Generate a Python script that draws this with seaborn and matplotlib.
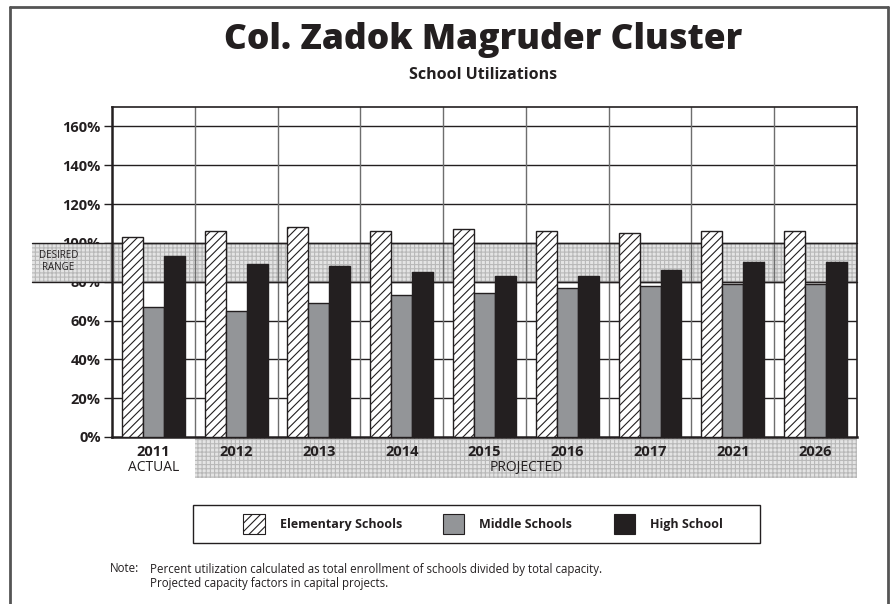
import pandas as pd
import matplotlib
matplotlib.use("Agg")
import matplotlib.pyplot as plt
import matplotlib.transforms as mtransforms
from matplotlib.patches import Rectangle, Patch
from matplotlib.lines import Line2D
import seaborn as sns

# data
years = ['2011', '2012', '2013', '2014', '2015', '2016', '2017', '2021', '2026']
elementary = [103, 106, 108, 106, 107, 106, 105, 106, 106]
middle = [67, 65, 69, 73, 74, 77, 78, 79, 79]
high = [93, 89, 88, 85, 83, 83, 86, 90, 90]
series = ['Elementary Schools', 'Middle Schools', 'High School']
y_ticks = [0, 20, 40, 60, 80, 100, 120, 140, 160]
desired_low, desired_high = 80, 100

df = pd.DataFrame({
    'year': years * 3,
    'util': elementary + middle + high,
    'type': [series[0]] * 9 + [series[1]] * 9 + [series[2]] * 9,
})

sns.set_style('white')
plt.rcParams['font.family'] = ['Open Sans', 'DejaVu Sans']
plt.rcParams['hatch.linewidth'] = 0.8

INK = '#231f20'
GREY = '#939598'
palette = {series[0]: 'white', series[1]: GREY, series[2]: INK}

fig = plt.figure(figsize=(8.9, 6.04), dpi=100)
ax = fig.add_axes([0.1258, 0.2765, 0.8371, 0.5464])

sns.barplot(data=df, x='year', y='util', hue='type', palette=palette,
            width=0.76, edgecolor=INK, linewidth=1.0, saturation=1,
            legend=False, ax=ax, zorder=3)

# hatch the elementary bars
for bar in ax.containers[0]:
    bar.set_hatch('////')
    bar.set_facecolor('white')

ax.set_xlim(-0.5, len(years) - 0.5)
ax.set_ylim(0, 170)
ax.set_xlabel('')
ax.set_ylabel('')

# gridlines
for v in y_ticks[1:]:
    ax.axhline(v, color=INK, lw=1.0, zorder=1.5)
for i in range(1, len(years)):
    ax.axvline(i - 0.5, color='#6e6e6e', lw=1.0, zorder=1.5)

# desired range band, reaching out past the axis
band = Rectangle((-0.107, desired_low), 1.107, desired_high - desired_low,
                 transform=ax.get_yaxis_transform(), clip_on=False,
                 facecolor='#e4e4e4', edgecolor='#b8b8b8', hatch='++++',
                 lw=0, zorder=1)
ax.add_patch(band)
for v in (desired_low, desired_high):
    ax.plot([-0.107, 1], [v, v], transform=ax.get_yaxis_transform(),
            color=INK, lw=1.0, clip_on=False, zorder=1.6)
ax.text(-0.072, 90.5, 'DESIRED\nRANGE', transform=ax.get_yaxis_transform(),
        ha='center', va='center', fontsize=7, color=INK, linespacing=1.2,
        zorder=2)

# projected band under the axis
bt = mtransforms.blended_transform_factory(ax.transData, ax.transAxes)
proj = Rectangle((0.5, -0.125), len(years) - 1, 0.125, transform=bt,
                 clip_on=False, facecolor='#e4e4e4', edgecolor='#b8b8b8',
                 hatch='++++', lw=0, zorder=0)
ax.add_patch(proj)

ax.set_yticks(y_ticks)
ax.set_yticklabels([f'{v}%' for v in y_ticks], fontsize=10.5,
                   fontweight='bold', color=INK)
ax.set_xticks(range(len(years)))
ax.set_xticklabels(years, fontsize=10.5, fontweight='bold', color=INK)
ax.set_xticks([i - 0.5 for i in range(len(years) + 1)], minor=True)
ax.tick_params(axis='x', which='major', length=0, pad=6)
ax.tick_params(axis='x', which='minor', length=8, width=1.0, color='#6e6e6e',
               direction='out')
ax.tick_params(axis='y', length=6, width=1.0, color=INK, left=True, pad=2)

ax.text(0, -0.092, 'ACTUAL', transform=bt, ha='center', va='center',
        fontsize=10, color=INK)
ax.text((len(years) - 1) / 2 + 0.5, -0.092, 'PROJECTED', transform=bt,
        ha='center', va='center', fontsize=10, color=INK)

for side in ['left', 'bottom']:
    ax.spines[side].set_linewidth(1.8)
    ax.spines[side].set_color(INK)
for side in ['top', 'right']:
    ax.spines[side].set_linewidth(1.2)
    ax.spines[side].set_color(INK)
    ax.spines[side].set_visible(True)

# titles
fig.text(0.543, 0.933, 'Col. Zadok Magruder Cluster', ha='center',
         va='center', fontsize=25.5, fontweight='heavy', color=INK)
fig.text(0.543, 0.876, 'School Utilizations', ha='center', va='center',
         fontsize=11.5, fontweight='bold', color=INK)

# legend, with its box drawn by hand
fig.add_artist(Rectangle((193 / 890, 1 - 543 / 604), 567 / 890, 38 / 604,
                         transform=fig.transFigure, facecolor='white',
                         edgecolor=INK, lw=1.0))
handles = [Patch(facecolor='white', edgecolor=INK, hatch='////', lw=0.8),
           Patch(facecolor=GREY, edgecolor=INK, lw=0.8),
           Patch(facecolor=INK, edgecolor=INK, lw=0.8)]
leg = fig.legend(handles, series, loc='center',
                 bbox_to_anchor=(483 / 890, 1 - 524 / 604),
                 ncol=3, frameon=False, handlelength=1.7,
                 handleheight=2.0, handletextpad=1.2, columnspacing=3.3,
                 prop={'size': 9, 'weight': 'bold'})
for t in leg.get_texts():
    t.set_color(INK)

# note
note_kw = dict(fontsize=8.3, va='center', color=INK)
fig.text(110 / 890, 1 - 569 / 604, 'Note:', **note_kw)
fig.text(150 / 890, 1 - 569 / 604,
         'Percent utilization calculated as total enrollment of schools divided by total capacity.',
         **note_kw)
fig.text(150 / 890, 1 - 583 / 604, 'Projected capacity factors in capital projects.',
         **note_kw)

# outer frame
frame_kw = dict(transform=fig.transFigure, color='#555555', lw=2)
fig.add_artist(Line2D([10 / 890, 888 / 890], [1 - 7 / 604, 1 - 7 / 604], **frame_kw))
fig.add_artist(Line2D([10 / 890, 10 / 890], [0, 1 - 7 / 604], **frame_kw))
fig.add_artist(Line2D([888 / 890, 888 / 890], [0, 1 - 7 / 604], **frame_kw))

fig.savefig('out.png', dpi=100)
